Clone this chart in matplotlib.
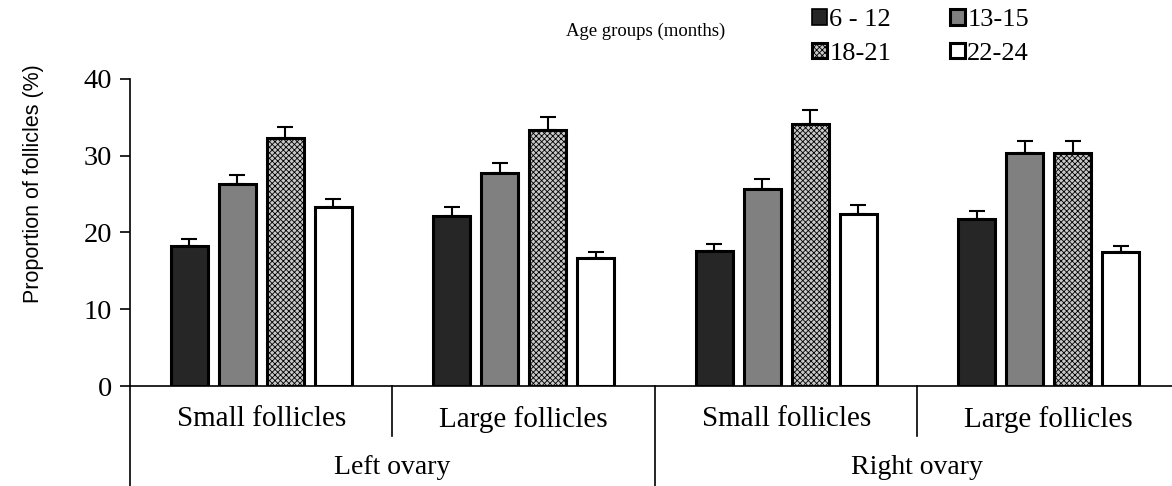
import numpy as np
import matplotlib.pyplot as plt
from matplotlib.patches import Patch

# data
sub_labels = ['Small follicles', 'Large follicles', 'Small follicles', 'Large follicles']
ovary_labels = ['Left ovary', 'Right ovary']
age_groups = ['6 - 12', '13-15', '18-21', '22-24']

m_6_12 = [18.2, 22.2, 17.6, 21.7]
m_13_15 = [26.3, 27.8, 25.7, 30.4]
m_18_21 = [32.3, 33.3, 34.2, 30.4]
m_22_24 = [23.3, 16.7, 22.4, 17.4]

e_6_12 = [0.9, 1.1, 0.9, 1.1]
e_13_15 = [1.2, 1.3, 1.3, 1.5]
e_18_21 = [1.5, 1.7, 1.7, 1.5]
e_22_24 = [1.1, 0.7, 1.2, 0.8]

means = [m_6_12, m_13_15, m_18_21, m_22_24]
errs = [e_6_12, e_13_15, e_18_21, e_22_24]

plt.rcParams['hatch.linewidth'] = 0.6
plt.rcParams['hatch.color'] = '#4a4a4a'
serif = ['Liberation Serif', 'DejaVu Serif']

styles = [dict(color='#262626', hatch=None),
          dict(color='#808080', hatch=None),
          dict(color='#c8c8c8', hatch='xxxxxx'),
          dict(color='white', hatch=None)]

fig = plt.figure(figsize=(11.72, 4.86), dpi=100)
ax = fig.add_axes([130 / 1172, 100 / 486, 1042 / 1172, 307 / 486])

x = np.arange(len(sub_labels))
step = 0.183
width = 0.141
for i in range(4):
    pos = x + (i - 1.5) * step
    ax.errorbar(pos, means[i], yerr=[np.zeros(4), errs[i]], fmt='none',
                ecolor='black', elinewidth=1.5, capsize=5.5, capthick=1.5, zorder=1)
    ax.bar(pos, means[i], width, facecolor=styles[i]['color'], hatch=styles[i]['hatch'],
           edgecolor='black', linewidth=2.2, zorder=2)

ax.set_xlim(-0.5, 3.47)
ax.set_ylim(0, 40)
ax.set_yticks([0, 10, 20, 30, 40])
ax.tick_params(axis='y', direction='out', length=7, width=1.2, labelsize=20.5, pad=6)
for lbl in ax.get_yticklabels():
    lbl.set_fontfamily(serif)
ax.set_xticks([])
ax.spines['top'].set_visible(False)
ax.spines['right'].set_visible(False)
ax.spines['left'].set_linewidth(1.2)
ax.spines['bottom'].set_linewidth(1.2)
ax.set_ylabel('Proportion of follicles (%)', fontsize=15.5, family=['Liberation Sans'])
ax.yaxis.set_label_coords(-0.083, 0.66)

# category axis below the plot
tr = ax.get_xaxis_transform()
for xi in [0.5, 2.5]:
    ax.plot([xi, xi], [0, -0.163], color='black', lw=1.2, transform=tr, clip_on=False)
for xi in [-0.5, 1.5]:
    ax.plot([xi, xi], [0, -0.326], color='black', lw=1.2, transform=tr, clip_on=False)
for xi, lbl in zip(x, sub_labels):
    ax.text(xi, -0.108, lbl, transform=tr, ha='center', va='center',
            fontsize=21, family=serif)
for xi, lbl in zip([0.5, 2.5], ovary_labels):
    ax.text(xi, -0.265, lbl, transform=tr, ha='center', va='center',
            fontsize=20, family=serif)

fig.text(646 / 1172, 1 - 31 / 486, 'Age groups (months)', ha='center', va='center',
         fontsize=13.5, family=serif)

handles = [Patch(facecolor=s['color'], hatch=s['hatch'], edgecolor='black',
                 linewidth=1.2 if k == 0 else 2.2) for k, s in enumerate(styles)]
# legend fills by column, so reorder to read row by row
order = [0, 2, 1, 3]
fig.legend([handles[k] for k in order], [age_groups[k] for k in order], ncol=2,
           loc='upper left', bbox_to_anchor=(799 / 1172, 1.0 + 4 / 486), frameon=False,
           prop={'family': serif, 'size': 19},
           handlelength=0.55, handleheight=0.55, handletextpad=0.1,
           columnspacing=2.23, labelspacing=0.42, borderaxespad=0.1)

fig.savefig('out.png', dpi=100)
